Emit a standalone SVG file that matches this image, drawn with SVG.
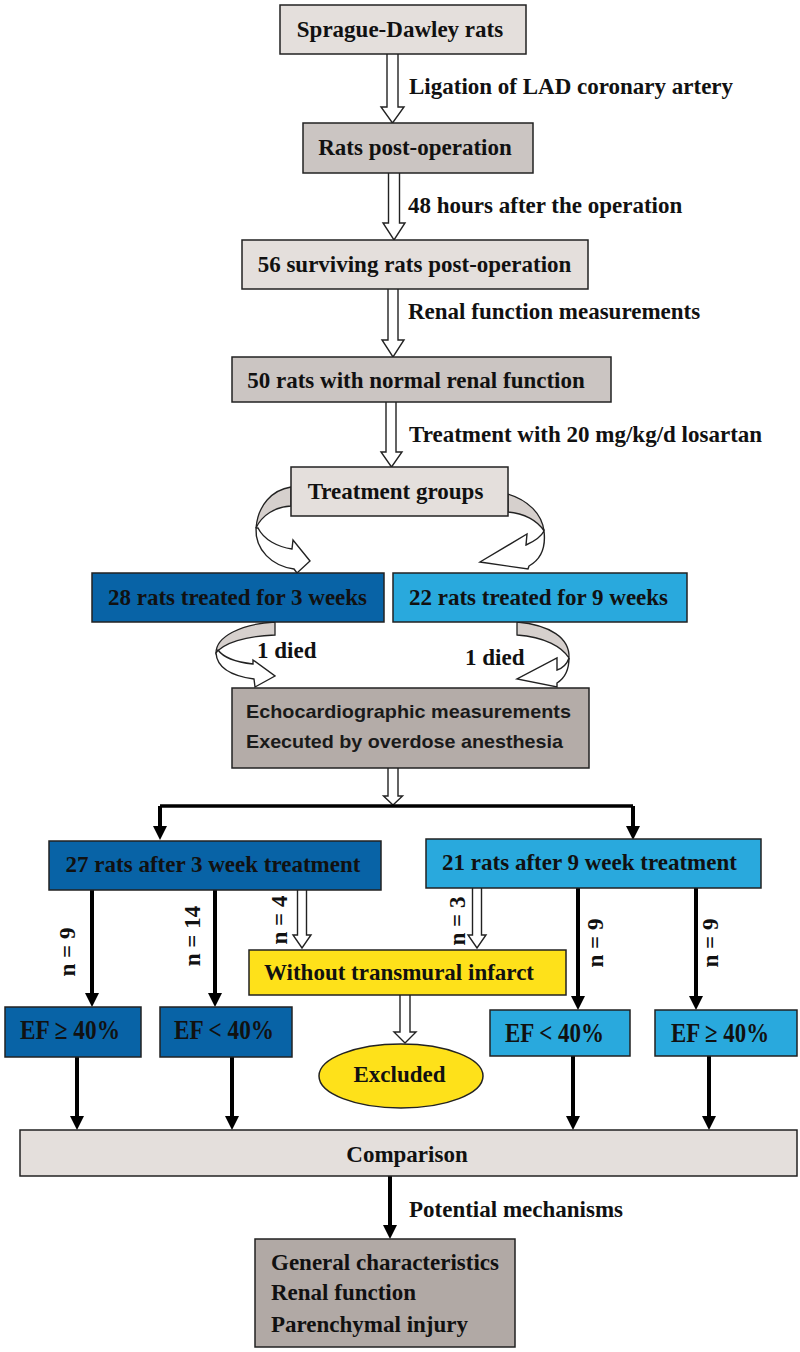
<svg xmlns="http://www.w3.org/2000/svg" width="800" height="1352" viewBox="0 0 800 1352">
<defs>
<style>
.t{font-family:"Liberation Serif","Times New Roman",serif;font-weight:bold;font-size:23px;fill:#111}
.c{text-anchor:middle}
.s{font-family:"Liberation Sans",Arial,sans-serif;font-weight:bold;font-size:19px;fill:#1a1a1a;text-anchor:middle}
.ef{font-family:"Liberation Serif","Times New Roman",serif;font-weight:bold;font-size:27px;fill:#111;text-anchor:middle}
.bx{stroke:#222;stroke-width:1.5}
.light{fill:#e4dfdc}
.mid{fill:#cbc5c2}
.dark{fill:#b4aca8}
.dblue{fill:#0863a6}
.lblue{fill:#29a9dd}
.yel{fill:#fee11a}
.hol{fill:#fff;stroke:#222;stroke-width:1.4;stroke-linejoin:miter}
.face{fill:#d6d0cd;stroke:#222;stroke-width:1.3}
.blk{fill:none;stroke:#000;stroke-width:4}
</style>
<marker id="ah" viewBox="0 0 14 14" refX="8" refY="7" markerWidth="14" markerHeight="14" markerUnits="userSpaceOnUse" orient="auto">
<path d="M0,0 L14,7 L0,14 Z" fill="#000"/>
</marker>
</defs>
<rect width="800" height="1352" fill="#fff"/>

<g id="connectors">
<path class="hol" d="M387,54 V107 H381 L392.5,123 L404,107 H398 V54"/>
<path class="hol" d="M388.5,173 V223 H383 L394,240 L405,223 H399.5 V173"/>
<path class="hol" d="M388,289 V340 H382 L393,357 L404,340 H398 V289"/>
<path class="hol" d="M386,402 V452 H381 L391.5,467 L402,452 H396 V402"/>
<path class="hol" d="M388,768 V796 H383.5 L393,805 L402.5,796 H398 V768"/>
<path class="hol" d="M297.5,890 V935 H293 L302,948 L311,935 H306.5 V890"/>
<path class="hol" d="M472.5,888 V935 H468 L477,948 L486,935 H481.5 V888"/>
<path class="hol" d="M400,995 V1032 H394 L405,1043 L416,1032 H410 V995"/>
<path class="face" d="M291,487 C272,490 258,505 256,528 C262,515 275,507 291,506 Z"/>
<path class="hol" d="M256,528 C255,550 272,566 294,569 L297,573 L310,561 L293,540 L292,549 C278,547 264,540 258,528 Z"/>
<path class="face" d="M508,494 C528,500 542,514 544,531 C538,521 524,513 508,512 Z"/>
<path class="hol" d="M544,531 C546,548 540,560 529,566 L528,569 L480,562 L527,534 L526,545 C535,541 541,537 544,531 Z"/>
<path class="face" d="M275,622 L275,635 C245,636 224,643 216,653 C216,637 240,624 275,622 Z"/>
<path class="hol" d="M216,653 C217,668 232,676 254,679 L255,687 L275,676 L253,660 L253,664 C235,662 223,657 218,650 Z"/>
<path class="face" d="M517,622 L517,635 C545,637 562,647 569,658 C570,638 550,625 517,622 Z"/>
<path class="hol" d="M569,658 C569,670 565,678 557,683 L557,687 L517,679 L557,658 L557,670 C563,668 567,664 569,658 Z"/>
<path d="M160,806 H633" fill="none" stroke="#000" stroke-width="3.5"/>
<path class="blk" d="M160,806 V834" stroke-width="3.5" marker-end="url(#ah)"/>
<path class="blk" d="M633,806 V834" stroke-width="3.5" marker-end="url(#ah)"/>
<path class="blk" d="M92,890 V1001" marker-end="url(#ah)"/>
<path class="blk" d="M215,890 V1001" marker-end="url(#ah)"/>
<path class="blk" d="M578,888 V1004" marker-end="url(#ah)"/>
<path class="blk" d="M696,888 V1004" marker-end="url(#ah)"/>
<path class="blk" d="M77,1057 V1124" marker-end="url(#ah)"/>
<path class="blk" d="M232,1057 V1124" marker-end="url(#ah)"/>
<path class="blk" d="M573,1056 V1124" marker-end="url(#ah)"/>
<path class="blk" d="M709,1056 V1124" marker-end="url(#ah)"/>
<path class="blk" d="M390,1176 V1233" marker-end="url(#ah)"/>
<text class="t" x="409" y="94">Ligation of LAD coronary artery</text>
<text class="t" x="408" y="213">48 hours after the operation</text>
<text class="t" x="408" y="319">Renal function measurements</text>
<text class="t" x="409" y="442">Treatment with 20 mg/kg/d losartan</text>
<text class="t" x="257" y="658">1 died</text>
<text class="t" x="465" y="665">1 died</text>
<text class="t c" transform="translate(75,952) rotate(-90)" font-size="22">n = 9</text>
<text class="t c" transform="translate(200,936) rotate(-90)" font-size="22">n = 14</text>
<text class="t c" transform="translate(287,920) rotate(-90)" font-size="22">n = 4</text>
<text class="t c" transform="translate(465,921) rotate(-90)" font-size="22">n = 3</text>
<text class="t c" transform="translate(603,943) rotate(-90)" font-size="22">n = 9</text>
<text class="t c" transform="translate(718,943) rotate(-90)" font-size="22">n = 9</text>
<text class="t" x="409" y="1217">Potential mechanisms</text>
</g>

<g id="sd"><rect class="bx light" x="280" y="5" width="246" height="49"/><text class="t c" x="400" y="37">Sprague-Dawley rats</text></g>
<g id="postop"><rect class="bx mid" x="303" y="123" width="230" height="50"/><text class="t c" x="415" y="155">Rats post-operation</text></g>
<g id="surv"><rect class="bx light" x="242" y="240" width="346" height="49"/><text class="t c" x="414.5" y="272">56 surviving rats post-operation</text></g>
<g id="normal"><rect class="bx mid" x="232" y="357" width="379" height="45"/><text class="t c" x="416" y="388">50 rats with normal renal function</text></g>
<g id="groups"><rect class="bx light" x="291" y="467" width="217" height="49"/><text class="t c" x="395.5" y="499">Treatment groups</text></g>
<g id="g3w"><rect class="bx dblue" x="92" y="573" width="292" height="49"/><text class="t c" x="237.5" y="605">28 rats treated for 3 weeks</text></g>
<g id="g9w"><rect class="bx lblue" x="393" y="573" width="294" height="49"/><text class="t c" x="538.5" y="605">22 rats treated for 9 weeks</text></g>
<g id="echo"><rect class="bx dark" x="232" y="688" width="357" height="80"/>
<text class="s" x="408.5" y="718" textLength="325" lengthAdjust="spacingAndGlyphs">Echocardiographic measurements</text>
<text class="s" x="404.5" y="748" textLength="317" lengthAdjust="spacingAndGlyphs">Executed by overdose anesthesia</text></g>
<g id="a3w"><rect class="bx dblue" x="49" y="841" width="332" height="49"/><text class="t c" x="213" y="872">27 rats after 3 week treatment</text></g>
<g id="a9w"><rect class="bx lblue" x="426" y="839" width="335" height="49"/><text class="t c" x="589.5" y="870">21 rats after 9 week treatment</text></g>
<g id="without"><rect class="bx yel" x="249" y="950" width="317" height="45"/><text class="t c" x="399" y="980">Without transmural infarct</text></g>
<g id="ef1"><rect class="bx dblue" x="5" y="1007" width="136" height="50"/><text class="ef" x="70" y="1039" textLength="100" lengthAdjust="spacingAndGlyphs">EF ≥ 40%</text></g>
<g id="ef2"><rect class="bx dblue" x="160" y="1007" width="132" height="50"/><text class="ef" x="224" y="1039" textLength="100" lengthAdjust="spacingAndGlyphs">EF &lt; 40%</text></g>
<g id="excl"><ellipse cx="401" cy="1076" rx="82" ry="32" fill="#fee11a" stroke="#222" stroke-width="1.5"/><text class="t c" x="399.5" y="1082">Excluded</text></g>
<g id="ef3"><rect class="bx lblue" x="490" y="1010" width="140" height="46"/><text class="ef" x="554.5" y="1042" textLength="99" lengthAdjust="spacingAndGlyphs">EF &lt; 40%</text></g>
<g id="ef4"><rect class="bx lblue" x="655" y="1010" width="142" height="46"/><text class="ef" x="720" y="1042" textLength="98" lengthAdjust="spacingAndGlyphs">EF ≥ 40%</text></g>
<g id="comp"><rect class="bx light" x="20" y="1130" width="777" height="46"/><text class="t c" x="407" y="1162">Comparison</text></g>
<g id="mech"><rect class="bx" fill="#b1a9a5" x="255" y="1239" width="260" height="108"/>
<text class="t" x="271" y="1270">General characteristics</text>
<text class="t" x="271" y="1300">Renal function</text>
<text class="t" x="271" y="1332">Parenchymal injury</text></g>
</svg>
